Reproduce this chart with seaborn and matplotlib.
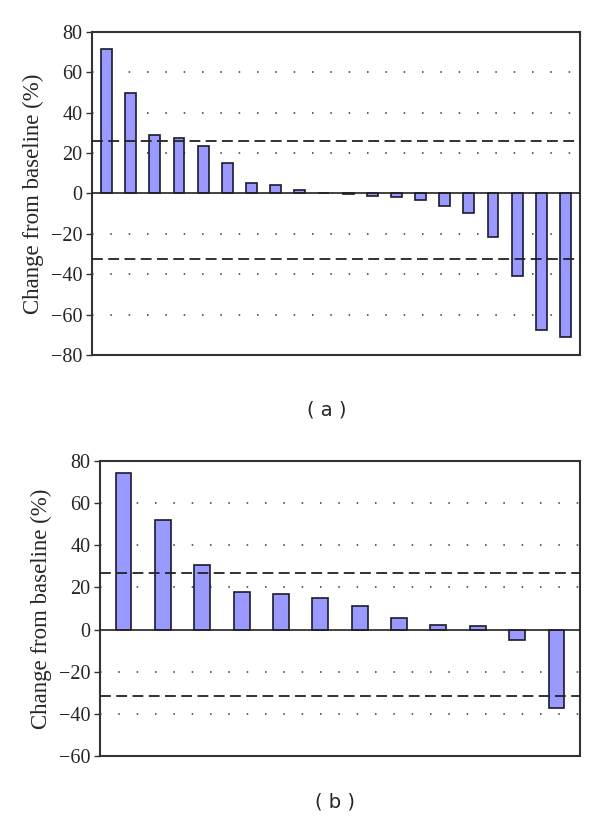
import matplotlib
matplotlib.use("Agg")
import matplotlib.pyplot as plt
import seaborn as sns
import pandas as pd

# Panel (a) data
a_values = [71.5, 49.8, 29.0, 27.7, 23.3, 15.0, 5.4, 4.2, 1.6, 0.2, -0.3, -1.2, -1.5,
            -3.3, -6.3, -9.8, -21.7, -41.0, -67.5, -71.0]
a_upper = 25.8
a_lower = -32.3
a_yticks = [-80, -60, -40, -20, 0, 20, 40, 60, 80]

# Panel (b) data
b_values = [74.1, 51.9, 30.6, 17.8, 16.7, 15.1, 11.1, 5.7, 2.2, 1.6, -4.8, -37.0]
b_upper = 26.7
b_lower = -31.4
b_yticks = [-60, -40, -20, 0, 20, 40, 60, 80]

ylabel = "Change from baseline (%)"
panel_labels = ["( a )", "( b )"]

sns.set_style("white")
plt.rcParams['font.family'] = ['Liberation Serif', 'DejaVu Serif']

fig = plt.figure(figsize=(6.0, 8.3), dpi=100)
W, H = 600, 830
ax_a = fig.add_axes([92 / W, 1 - 355 / H, (580 - 92) / W, (355 - 32) / H])
ax_b = fig.add_axes([100 / W, 1 - 756 / H, (580 - 100) / W, (756 - 461) / H])

bar_color = "#9999FF"


def draw(ax, values, upper, lower, yticks, width):
    df = pd.DataFrame({"idx": list(range(len(values))), "val": values})
    sns.barplot(data=df, x="idx", y="val", ax=ax, color=bar_color, saturation=1,
                width=width, edgecolor="#1a1a2e", linewidth=1.2, zorder=3)
    ax.set_ylim(yticks[0], yticks[-1])
    ax.set_xlim(-0.6, len(values) - 0.4)
    ax.set_yticks(yticks)
    ax.set_yticklabels([str(t) if t >= 0 else "\u2212" + str(-t) for t in yticks])
    for t in yticks[1:-1]:
        if t != 0:
            ax.axhline(t, color="#333333", linestyle=(0, (1, 11)), linewidth=1.1, zorder=1)
    ax.axhline(0, color="#222222", linewidth=1.2, zorder=4)
    ax.axhline(upper, color="#222222", linestyle=(0, (6, 3)), linewidth=1.3, zorder=5)
    ax.axhline(lower, color="#222222", linestyle=(0, (6, 3)), linewidth=1.3, zorder=5)
    ax.set_xticks([])
    ax.set_xlabel("")
    ax.set_ylabel(ylabel, fontsize=16.5, labelpad=5)
    ax.tick_params(axis="y", labelsize=14.5, length=4, width=1, direction="out",
                   left=True, color="#333333", pad=3)
    for s in ax.spines.values():
        s.set_visible(True)
        s.set_color("#333333")
        s.set_linewidth(1.5)


draw(ax_a, a_values, a_upper, a_lower, a_yticks, 0.45)
draw(ax_b, b_values, b_upper, b_lower, b_yticks, 0.4)

fig.text(327 / W, 1 - 410 / H, panel_labels[0], ha="center", va="center", fontsize=14,
         family=['DejaVu Sans'])
fig.text(335 / W, 1 - 802 / H, panel_labels[1], ha="center", va="center", fontsize=14,
         family=['DejaVu Sans'])

fig.savefig("out.png", dpi=100)
